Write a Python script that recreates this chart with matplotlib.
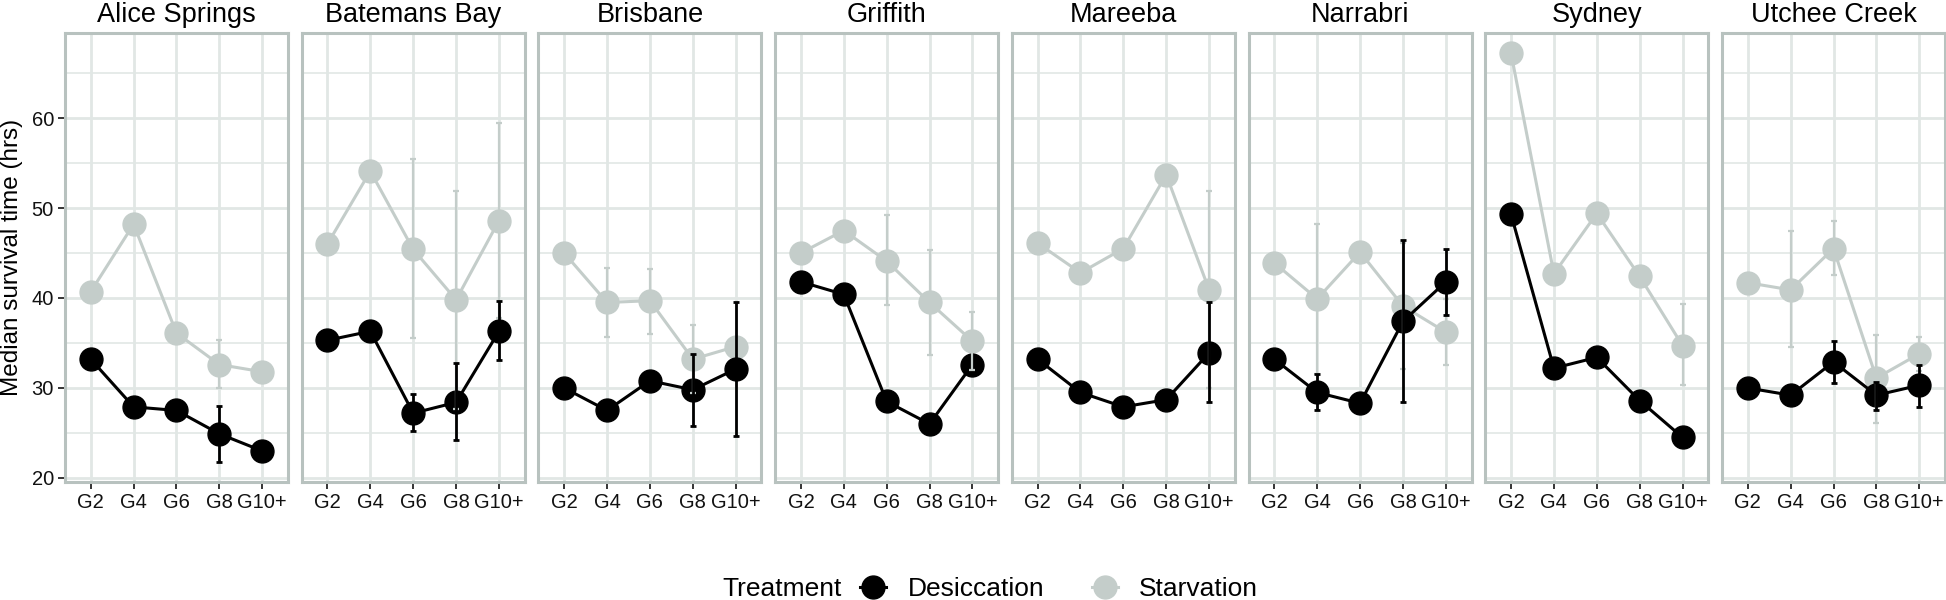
import numpy as np
import matplotlib.pyplot as plt
from matplotlib.lines import Line2D

plt.rcParams['font.family'] = ['Liberation Sans', 'DejaVu Sans']

# data
cities = ['Alice Springs', 'Batemans Bay', 'Brisbane', 'Griffith',
          'Mareeba', 'Narrabri', 'Sydney', 'Utchee Creek']
gens = ['G2', 'G4', 'G6', 'G8', 'G10+']
nan = np.nan

starvation = [
    [40.7, 48.2, 36.1, 32.6, 31.8],
    [46.0, 54.1, 45.4, 39.8, 48.6],
    [45.0, 39.5, 39.7, 33.2, 34.6],
    [45.0, 47.5, 44.1, 39.5, 35.2],
    [46.1, 42.8, 45.5, 53.7, 40.9],
    [43.9, 39.9, 45.1, 39.1, 36.2],
    [67.2, 42.7, 49.4, 42.4, 34.7],
    [41.7, 40.9, 45.5, 31.1, 33.8],
]
starvation_lo = [
    [nan, nan, nan, 30.0, nan],
    [nan, nan, 35.5, 27.7, 37.8],
    [nan, 35.7, 36.0, 29.4, nan],
    [nan, nan, 39.2, 33.7, 32.0],
    [nan, nan, nan, nan, 30.0],
    [nan, 31.6, nan, 32.1, 32.5],
    [nan, nan, nan, nan, 30.3],
    [nan, 34.5, 42.5, 26.1, 31.9],
]
starvation_hi = [
    [nan, nan, nan, 35.3, nan],
    [nan, nan, 55.5, 51.9, 59.4],
    [nan, 43.3, 43.2, 37.0, nan],
    [nan, nan, 49.2, 45.3, 38.4],
    [nan, nan, nan, nan, 51.9],
    [nan, 48.2, nan, 46.1, 39.9],
    [nan, nan, nan, nan, 39.3],
    [nan, 47.5, 48.6, 35.9, 35.7],
]

desiccation = [
    [33.2, 27.9, 27.5, 24.9, 23.0],
    [35.3, 36.3, 27.2, 28.4, 36.3],
    [30.0, 27.5, 30.8, 29.8, 32.1],
    [41.8, 40.4, 28.5, 26.0, 32.6],
    [33.2, 29.5, 27.9, 28.7, 33.9],
    [33.2, 29.5, 28.3, 37.4, 41.8],
    [49.3, 32.2, 33.4, 28.6, 24.5],
    [30.0, 29.2, 32.9, 29.2, 30.3],
]
desiccation_lo = [
    [nan, nan, nan, 21.8, nan],
    [nan, nan, 25.2, 24.2, 33.1],
    [nan, nan, nan, 25.8, 24.7],
    [nan, nan, nan, nan, nan],
    [nan, nan, nan, nan, 28.4],
    [nan, 27.5, nan, 28.4, 38.1],
    [nan, nan, nan, nan, nan],
    [nan, nan, 30.6, 27.6, 27.9],
]
desiccation_hi = [
    [nan, nan, nan, 28.0, nan],
    [nan, nan, 29.3, 32.8, 39.7],
    [nan, nan, nan, 33.8, 39.5],
    [nan, nan, nan, nan, nan],
    [nan, nan, nan, nan, 39.5],
    [nan, 31.5, nan, 46.5, 45.5],
    [nan, nan, nan, nan, nan],
    [nan, nan, 35.2, 30.7, 32.6],
]

black = '#000000'
grey = '#c4cdca'
border = '#b8c2bf'
gridc = '#e1e7e5'

fig, axes = plt.subplots(1, 8, figsize=(19.46, 6), dpi=100, sharey=True)
fig.subplots_adjust(left=65/1946, right=1945/1946, top=1-33/600,
                    bottom=1-482/600, wspace=0.0616)

x = np.arange(1, 6)
for i, ax in enumerate(axes):
    s = np.array(starvation[i])
    d = np.array(desiccation[i])
    ax.plot(x, s, color=grey, lw=2.2, marker='o', ms=16.5, zorder=3)
    ax.plot(x, d, color=black, lw=2.2, marker='o', ms=16.5, zorder=4)
    # error bars
    slo, shi = np.array(starvation_lo[i]), np.array(starvation_hi[i])
    dlo, dhi = np.array(desiccation_lo[i]), np.array(desiccation_hi[i])
    ax.errorbar(x, s, yerr=[s - slo, shi - s], fmt='none', ecolor=grey,
                elinewidth=1.6, capsize=2, capthick=1.6, zorder=5)
    ax.errorbar(x, d, yerr=[d - dlo, dhi - d], fmt='none', ecolor=black,
                elinewidth=2.0, capsize=2, capthick=2.0, zorder=6)

    ax.set_xlim(0.4, 5.6)
    ax.set_ylim(19.55, 69.45)
    ax.set_xticks(x)
    ax.set_xticklabels(gens)
    ax.set_yticks([20, 30, 40, 50, 60])
    ax.set_yticks([25, 35, 45, 55, 65], minor=True)
    ax.grid(True, which='major', color=gridc, lw=2.0, zorder=0)
    ax.grid(True, which='minor', axis='y', color=gridc, lw=1.2, zorder=0)
    ax.set_axisbelow(True)
    for sp in ax.spines.values():
        sp.set_color(border)
        sp.set_linewidth(2.2)
    ax.tick_params(axis='both', which='major', length=5, width=1.4,
                   color='#333333', labelsize=14.5, labelcolor='#111111', pad=3)
    ax.tick_params(axis='y', which='minor', length=0)
    if i > 0:
        ax.tick_params(axis='y', which='major', left=False, labelleft=False)
    ax.set_title(cities[i], fontsize=19.5, pad=8)

axes[0].set_ylabel('Median survival time (hrs)', fontsize=17.5, labelpad=6)

# legend
fig.text(722/1946, 1-589/600, 'Treatment', fontsize=19, va='center', ha='left')
handles = [
    Line2D([], [], color=black, lw=2.2, marker='o', ms=16.5),
    Line2D([], [], color=grey, lw=2.2, marker='o', ms=16.5),
]
fig.legend(handles, ['Desiccation', 'Starvation'], loc='center left',
           bbox_to_anchor=(860/1946, 1-589/600), ncol=2, frameon=False,
           fontsize=19, handlelength=1.0, handletextpad=0.8,
           columnspacing=1.8, borderpad=0, borderaxespad=0)

plt.savefig('out.png', dpi=100)
